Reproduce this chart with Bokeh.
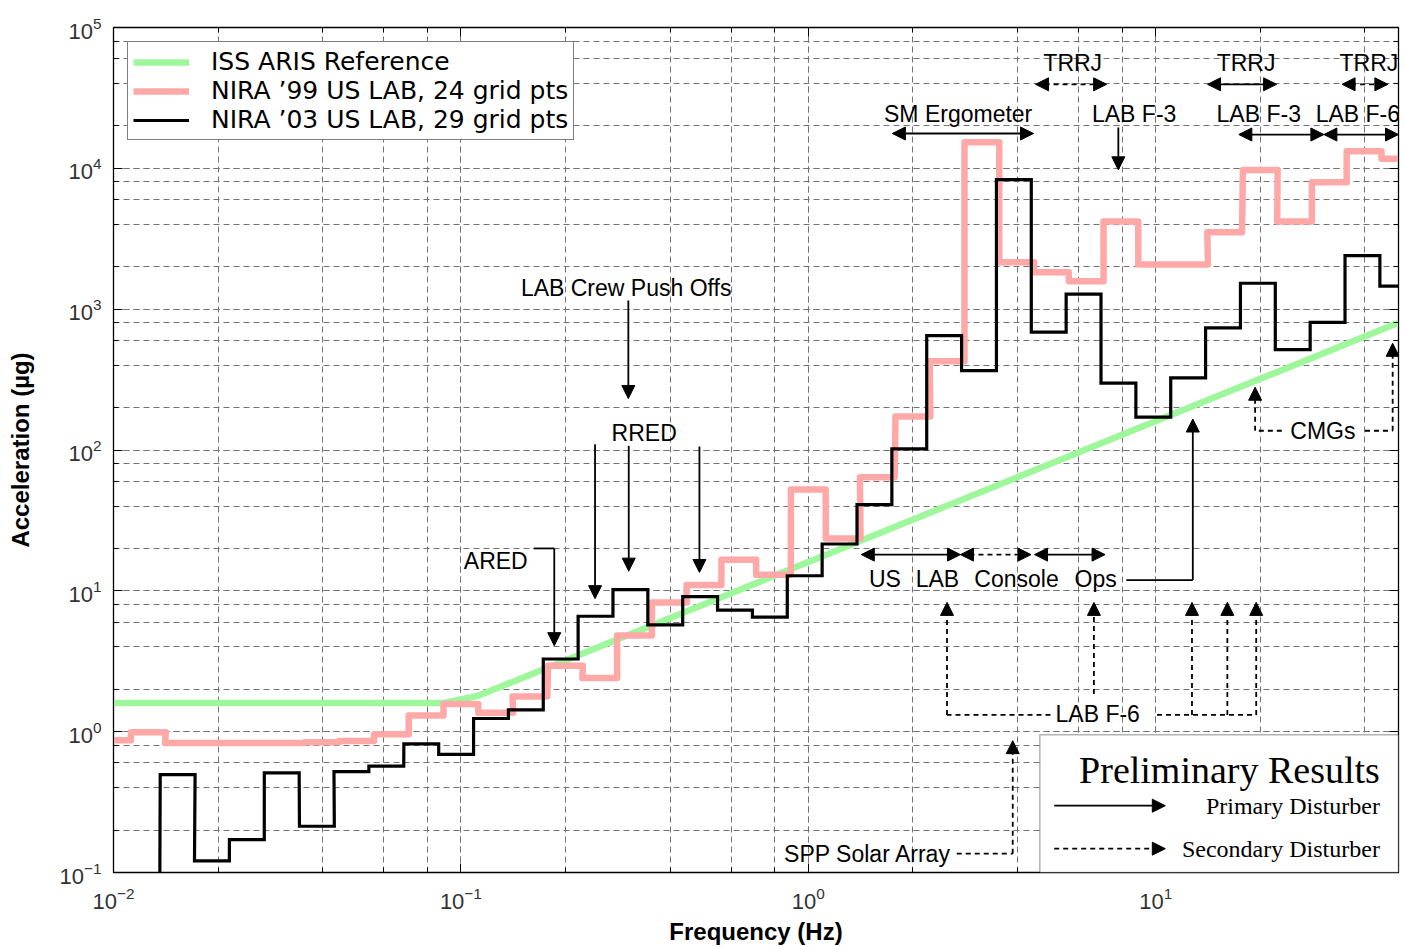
import math
from bokeh.plotting import figure
from bokeh.models import (Range1d, Legend, LegendItem, Label, Arrow, LogAxis,
                          NormalHead, BoxAnnotation, LogTicker, CustomJSTickFormatter)
from bokeh.embed import file_html
from bokeh.resources import INLINE

# ---------------- data ----------------
# ISS ARIS reference curve (Hz, micro-g)
aris_freq = [0.01, 0.0891, 0.1122, 50.0]
aris_accel = [1.6, 1.6, 1.80, 800.0]

# NIRA '99 US LAB, one-third-octave band centres (base-10) and levels (micro-g)
nira99_freq = [0.0100, 0.0126, 0.0158, 0.0200, 0.0251, 0.0316, 0.0398, 0.0501, 0.0631, 0.0794,
               0.100, 0.126, 0.158, 0.200, 0.251, 0.316, 0.398, 0.501, 0.631, 0.794,
               1.00, 1.26, 1.58, 2.00, 2.51, 3.16, 3.98, 5.01, 6.31, 7.94,
               10.0, 12.6, 15.8, 20.0, 25.1, 31.6, 39.8, 50.1]
nira99_accel = [0.87, 0.99, 0.83, 0.83, 0.83, 0.83, 0.84, 0.86, 0.96, 1.30,
                1.57, 1.36, 1.78, 2.94, 2.40, 4.81, 8.28, 11.0, 16.6, 13.0,
                52.5, 23.5, 64.0, 173.0, 426.0, 15300.0, 2150.0, 1830.0, 1580.0, 4190.0,
                2075.0, 2075.0, 3517.0, 9750.0, 4190.0, 7960.0, 13200.0, 11700.0]

# NIRA '03 US LAB, one-third-octave band centres (base-2) and levels (micro-g)
nira03_freq = [0.0121, 0.0153, 0.0192, 0.0242, 0.0305, 0.0385, 0.0484, 0.0610, 0.0769, 0.0969,
               0.1221, 0.1538, 0.1938, 0.2441, 0.3076, 0.3875, 0.4883, 0.6152, 0.7751, 0.9766,
               1.2304, 1.5502, 1.9531, 2.4608, 3.1004, 3.9063, 4.9216, 6.2008, 7.8125, 9.8431,
               12.402, 15.625, 19.686, 24.803, 31.250, 39.373, 49.606]
nira03_accel = [0.05, 0.495, 0.121, 0.171, 0.51, 0.213, 0.52, 0.57, 0.82, 0.69,
                1.24, 1.43, 3.28, 6.6, 10.2, 5.73, 9.1, 7.3, 6.5, 12.8,
                21.5, 40.9, 102.0, 649.0, 366.0, 8320.0, 686.0, 1277.0, 298.0, 171.0,
                325.0, 736.0, 1528.0, 516.0, 807.0, 2403.0, 1456.0]

legend_labels = ["ISS ARIS Reference",
                 "NIRA \u201999 US LAB, 24 grid pts",
                 "NIRA \u201903 US LAB, 29 grid pts"]


def band_steps(freqs, vals, half_ratio):
    xs, ys = [], []
    for f, v in zip(freqs, vals):
        xs += [f / half_ratio, f * half_ratio]
        ys += [v, v]
    return xs, ys


# ---------------- figure ----------------
p = figure(width=1405, height=947, x_axis_type="log", y_axis_type="log",
           x_range=Range1d(0.01, 50), y_range=Range1d(0.1, 1e5),
           output_backend="svg", toolbar_location=None,
           min_border_left=113, min_border_right=7, min_border_top=27, min_border_bottom=75)
p.background_fill_color = "white"
p.border_fill_color = "white"
p.outline_line_color = "black"
p.outline_line_width = 1.3

for g in (p.xgrid[0], p.ygrid[0]):
    g.grid_line_color = "#737373"
    g.grid_line_dash = "6 4"
    g.grid_line_width = 1
    g.minor_grid_line_color = "#737373"
    g.minor_grid_line_dash = "6 4"
    g.minor_grid_line_width = 1

p.yaxis.ticker = LogTicker(desired_num_ticks=8)
p.xaxis.ticker = LogTicker(desired_num_ticks=6)

for ax in (p.xaxis[0], p.yaxis[0]):
    ax.major_tick_in = 9
    ax.major_tick_out = 0
    ax.minor_tick_in = 5
    ax.minor_tick_out = 0
    ax.axis_line_color = "black"
    ax.major_label_text_font = "Liberation Sans"
    ax.major_label_text_font_size = "22px"
    ax.major_label_text_color = "#333333"
    ax.axis_label_text_font = "Liberation Sans"
    ax.axis_label_text_font_style = "bold"
    ax.axis_label_text_font_size = "24px"
    ax.axis_label_text_color = "black"

p.xaxis.axis_label = "Frequency (Hz)"
p.yaxis.axis_label = "Acceleration (\u00b5g)"
p.xaxis.major_label_standoff = 14
p.xaxis.axis_label_standoff = 6
p.yaxis.major_label_standoff = 12
p.yaxis.axis_label_standoff = 22

# mirrored inward ticks on top and right (no visible labels)
blank = CustomJSTickFormatter(code="return ' '")
for place, nt in (("above", 6), ("right", 8)):
    m_ax = LogAxis(ticker=LogTicker(desired_num_ticks=nt), formatter=blank,
                   major_tick_in=9, major_tick_out=0, minor_tick_in=5, minor_tick_out=0,
                   major_label_text_font_size="8px", major_label_standoff=0,
                   axis_line_color="black")
    p.add_layout(m_ax, place)

# ---------------- series ----------------
r_aris = p.line(aris_freq, aris_accel, line_color="#9ff79c", line_width=6.5)
x99, y99 = band_steps(nira99_freq, nira99_accel, 10 ** 0.05)
r99 = p.line(x99, y99, line_color="#ffa8a8", line_width=6.5, line_join="round")
x03, y03 = band_steps(nira03_freq, nira03_accel, 2 ** (1 / 6))
r03 = p.line(x03, y03, line_color="black", line_width=3.2, line_join="miter")

legend = Legend(items=[LegendItem(label=legend_labels[0], renderers=[r_aris]),
                       LegendItem(label=legend_labels[1], renderers=[r99]),
                       LegendItem(label=legend_labels[2], renderers=[r03])],
                location="top_left", margin=14, padding=5, spacing=0,
                glyph_width=56, glyph_height=26, label_standoff=22,
                label_text_font="DejaVu Sans", label_text_font_size="25px",
                label_text_color="black",
                border_line_color="black", border_line_width=1.5,
                background_fill_color="white", background_fill_alpha=1.0)
p.add_layout(legend)

# ---------------- annotations ----------------
def head():
    return NormalHead(size=13, fill_color="black", line_color="black", line_width=1)


def arrow(x0, y0, x1, y1, heads="end", dashed=False):
    p.add_layout(Arrow(x_start=x0, y_start=y0, x_end=x1, y_end=y1,
                       start=head() if heads == "both" else None,
                       end=head() if heads in ("end", "both") else None,
                       line_color="black", line_width=1.8,
                       line_dash="5 4" if dashed else "solid"))


def label(x, y, text, size="23px", font="Liberation Sans", align="center"):
    p.add_layout(Label(x=x, y=y, text=text, text_font=font, text_font_size=size,
                       text_align=align, text_baseline="middle", text_color="black"))


# LAB crew push offs / RRED / ARED
label(0.299, 1422, "LAB Crew Push Offs")
arrow(0.3034, 1151, 0.3034, 232)
label(0.337, 131, "RRED")
arrow(0.2433, 110, 0.2433, 8.8)
arrow(0.3042, 107, 0.3042, 13.8)
arrow(0.486, 106, 0.486, 13.5)
label(0.126, 16.4, "ARED")
arrow(0.162, 20.0, 0.1857, 20.0, heads="none")
arrow(0.1857, 20.0, 0.1857, 4.08)

# upper right group
label(2.70, 24500, "SM Ergometer")
arrow(1.746, 17670, 4.449, 17670, heads="both")
label(5.77, 56400, "TRRJ")
arrow(4.51, 39500, 7.225, 39500, heads="both", dashed=True)
label(18.2, 56400, "TRRJ")
arrow(14.10, 39500, 22.29, 39500, heads="both")
label(41.1, 56400, "TRRJ")
arrow(34.4, 39500, 46.6, 39500, heads="both", dashed=True)
label(8.67, 24500, "LAB F-3")
arrow(7.807, 19490, 7.807, 9760)
label(19.8, 24500, "LAB F-3")
arrow(17.35, 17380, 30.49, 17380, heads="both")
label(38.2, 24500, "LAB F-6")
arrow(30.49, 17380, 50.0, 17380, heads="both")

# US LAB Console Ops
label(1.662, 12.2, "US")
label(2.353, 12.2, "LAB")
label(3.976, 12.2, "Console")
label(6.715, 12.2, "Ops")
arrow(1.421, 18.08, 2.742, 18.08, heads="both")
arrow(2.742, 18.08, 4.377, 18.08, heads="both", dashed=True)
arrow(4.48, 18.08, 7.15, 18.08, heads="both")
arrow(8.233, 11.93, 12.79, 11.93, heads="none")
arrow(12.79, 11.93, 12.79, 166)

# LAB F-6 (secondary)
label(6.81, 1.342, "LAB F-6")
arrow(4.98, 1.314, 2.508, 1.314, heads="none", dashed=True)
arrow(2.508, 1.314, 2.508, 8.28, dashed=True)
arrow(6.64, 1.853, 6.64, 8.28, dashed=True)
arrow(10.09, 1.314, 19.47, 1.314, heads="none", dashed=True)
arrow(12.72, 1.314, 12.72, 8.28, dashed=True)
arrow(16.08, 1.314, 16.08, 8.28, dashed=True)
arrow(19.47, 1.314, 19.47, 8.28, dashed=True)

# CMGs
label(30.3, 137, "CMGs")
arrow(23.07, 137, 19.33, 137, heads="none", dashed=True)
arrow(19.33, 137, 19.33, 279, dashed=True)
arrow(40.03, 137, 48.1, 137, heads="none", dashed=True)
arrow(48.1, 137, 48.1, 572, dashed=True)

# SPP solar array
label(1.484, 0.136, "SPP Solar Array")
arrow(2.675, 0.136, 3.877, 0.136, heads="none", dashed=True)
arrow(3.877, 0.136, 3.877, 0.863, dashed=True)

# Preliminary results key box
p.add_layout(BoxAnnotation(left=4.64, right=50, bottom=0.1, top=0.952,
                           fill_color="white", fill_alpha=1.0,
                           line_color="black", line_width=1.5))
label(44.2, 0.537, "Preliminary Results", size="38px", font="Liberation Serif", align="right")
label(44.2, 0.298, "Primary Disturber", size="24px", font="Liberation Serif", align="right")
label(44.2, 0.1476, "Secondary Disturber", size="24px", font="Liberation Serif", align="right")
arrow(5.104, 0.298, 10.66, 0.298)
arrow(5.104, 0.1476, 10.66, 0.1476, dashed=True)

open("out.html", "w").write(file_html(p, INLINE))
